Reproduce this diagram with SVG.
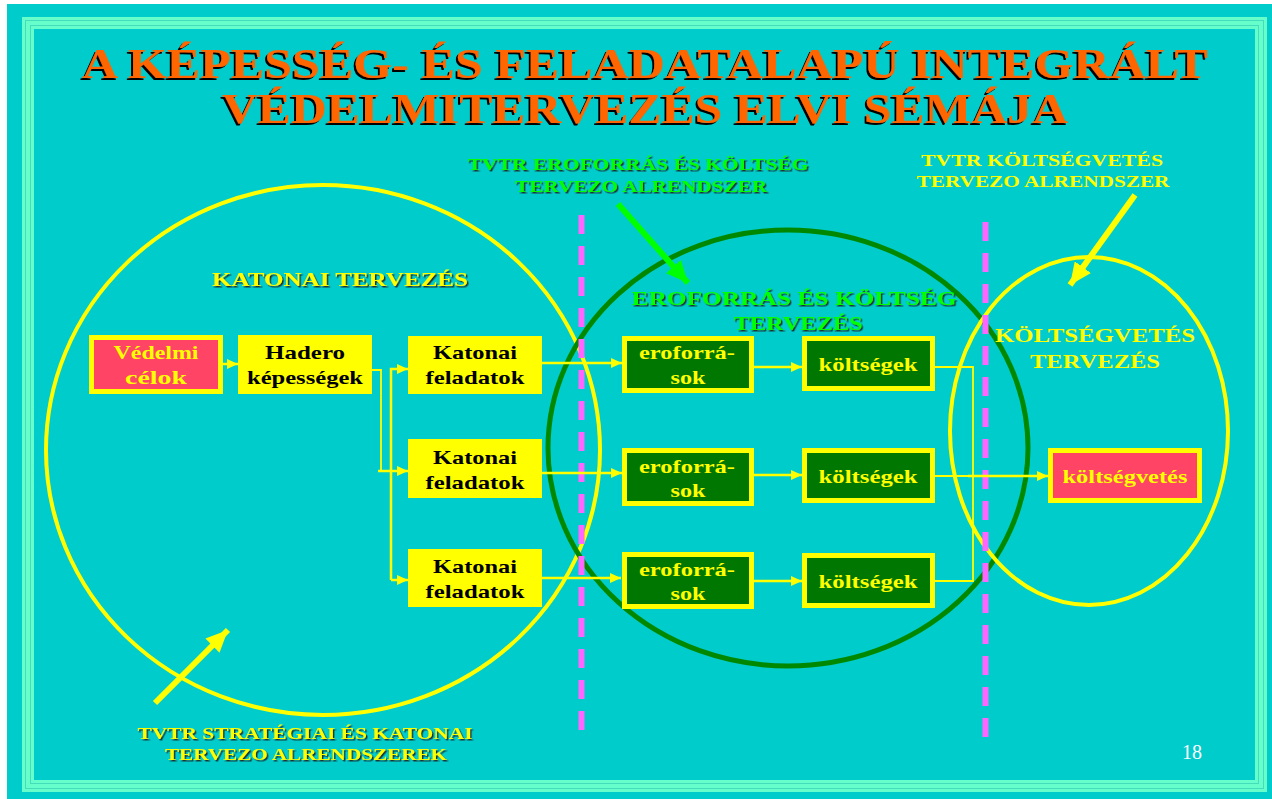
<svg xmlns="http://www.w3.org/2000/svg" width="1272" height="799" viewBox="0 0 1272 799">
<style>
text{font-family:"Liberation Serif","Times New Roman",serif;font-weight:bold;text-anchor:middle}
.title{font-size:42px;fill:#FF6600}
.lblg{font-size:17px;fill:#00FF00}
.lbly{font-size:17px;fill:#FFFF00}
.lblb{font-size:19px;fill:#FFFF00}
.lblbg{font-size:19px;fill:#00FF00}
.bt{font-size:19px}
.blk{fill:#000}
.yel{fill:#FFFF00}
.ybox{fill:#FFFF00}
.gbox{fill:#007700;stroke:#FFFF00;stroke-width:5}
.pbox{fill:#FF4466;stroke:#FFFF00;stroke-width:5}
.conn{fill:none;stroke:#FFFF00;stroke-width:2.5}
.thin{fill:none;stroke:#FFFF00;stroke-width:1.8}
.dash{stroke:#FF66FF;stroke-width:6;stroke-dasharray:19 12}
</style>
<defs>
<filter id="shT" x="-5%" y="-20%" width="110%" height="140%"><feDropShadow dx="-2" dy="2" stdDeviation="0" flood-color="#000" flood-opacity="1"/></filter>
<filter id="shS" x="-5%" y="-20%" width="110%" height="140%"><feDropShadow dx="1.5" dy="1.5" stdDeviation="0" flood-color="#222" flood-opacity="0.9"/></filter>
<marker id="ah" markerUnits="userSpaceOnUse" markerWidth="12" markerHeight="10" refX="11" refY="5" orient="auto"><path d="M0,0 L11,5 L0,10 z" fill="#FFFF00"/></marker>
<marker id="bigY" markerUnits="userSpaceOnUse" markerWidth="24" markerHeight="20" refX="22" refY="10" orient="auto"><path d="M0,0 L22,10 L0,20 z" fill="#FFFF00"/></marker>
<marker id="bigG" markerUnits="userSpaceOnUse" markerWidth="24" markerHeight="20" refX="22" refY="10" orient="auto"><path d="M0,0 L22,10 L0,20 z" fill="#00FF00"/></marker>
</defs>
<rect x="0" y="0" width="1272" height="799" fill="#FFFFFF"/>
<rect x="7" y="4" width="1265" height="795" fill="#00CCCC"/>
<g id="frame">
<rect x="28" y="23" width="1233" height="763" fill="none" stroke="#66FFCC" stroke-width="12"/>
<rect x="25.5" y="20.5" width="1238" height="768" fill="none" stroke="#44DDBB" stroke-width="1"/>
<rect x="30.5" y="25.5" width="1228" height="758" fill="none" stroke="#44DDBB" stroke-width="1"/>
</g>
<g id="title" filter="url(#shT)">
<text class="title" x="645" y="78" textLength="1126" lengthAdjust="spacingAndGlyphs">A KÉPESSÉG- ÉS FELADATALAPÚ INTEGRÁLT</text>
<text class="title" x="645" y="123" textLength="846" lengthAdjust="spacingAndGlyphs">VÉDELMITERVEZÉS ELVI SÉMÁJA</text>
</g>
<g id="ellipses">
<ellipse cx="323" cy="450" rx="277" ry="265" fill="none" stroke="#FFFF00" stroke-width="4"/>
<ellipse cx="788" cy="448" rx="240" ry="218" fill="none" stroke="#008800" stroke-width="5"/>
<ellipse cx="1089" cy="431" rx="139" ry="174" fill="none" stroke="#FFFF00" stroke-width="4"/>
</g>
<g id="dividers">
<line class="dash" x1="581.5" y1="215" x2="581.5" y2="732"/>
<line class="dash" x1="985.5" y1="222" x2="985.5" y2="740"/>
</g>
<g id="labels">
<g filter="url(#shS)">
<text class="lblg" x="638" y="170" textLength="341" lengthAdjust="spacingAndGlyphs">TVTR EROFORRÁS  ÉS KÖLTSÉG</text>
<text class="lblg" x="641" y="192" textLength="252" lengthAdjust="spacingAndGlyphs">TERVEZO ALRENDSZER</text>
<text class="lblb" x="340" y="286" textLength="256" lengthAdjust="spacingAndGlyphs">KATONAI TERVEZÉS</text>
<text class="lblbg" x="794" y="305" textLength="325" lengthAdjust="spacingAndGlyphs">EROFORRÁS  ÉS KÖLTSÉG</text>
<text class="lblbg" x="798" y="330" textLength="129" lengthAdjust="spacingAndGlyphs">TERVEZÉS</text>
<text class="lbly" x="305" y="739" textLength="335" lengthAdjust="spacingAndGlyphs">TVTR STRATÉGIAI ÉS KATONAI</text>
<text class="lbly" x="306" y="760" textLength="282" lengthAdjust="spacingAndGlyphs">TERVEZO ALRENDSZEREK</text>
</g>
<text class="lbly" x="1042" y="166" textLength="242" lengthAdjust="spacingAndGlyphs">TVTR  KÖLTSÉGVETÉS</text>
<text class="lbly" x="1043" y="187" textLength="253" lengthAdjust="spacingAndGlyphs">TERVEZO ALRENDSZER</text>
<text class="lblb" x="1095" y="342" textLength="200" lengthAdjust="spacingAndGlyphs">KÖLTSÉGVETÉS</text>
<text class="lblb" x="1095" y="368" textLength="130" lengthAdjust="spacingAndGlyphs">TERVEZÉS</text>
<text x="1192" y="759" style="font-weight:normal;font-size:20px;fill:#FFFFFF">18</text>
</g>
<g id="pointers">
<line x1="618" y1="204" x2="688" y2="283" stroke="#00FF00" stroke-width="6" marker-end="url(#bigG)"/>
<line x1="1135" y1="195" x2="1070" y2="285" stroke="#FFFF00" stroke-width="6" marker-end="url(#bigY)"/>
<line x1="155" y1="703" x2="228" y2="630" stroke="#FFFF00" stroke-width="6" marker-end="url(#bigY)"/>
</g>
<g id="n-vedelmi">
<rect class="pbox" x="91.5" y="337.5" width="129" height="54"/>
<text class="bt yel" x="156" y="359" textLength="85" lengthAdjust="spacingAndGlyphs">Védelmi</text>
<text class="bt yel" x="156" y="384" textLength="62" lengthAdjust="spacingAndGlyphs">célok</text>
</g>
<g id="n-hadero">
<rect class="ybox" x="238" y="335" width="134" height="59"/>
<text class="bt blk" x="305" y="359" textLength="80" lengthAdjust="spacingAndGlyphs">Hadero</text>
<text class="bt blk" x="305" y="384" textLength="116" lengthAdjust="spacingAndGlyphs">képességek</text>
</g>
<g id="n-katonai1">
<rect class="ybox" x="408" y="336" width="134" height="58"/>
<text class="bt blk" x="475" y="359" textLength="84" lengthAdjust="spacingAndGlyphs">Katonai</text>
<text class="bt blk" x="475" y="384" textLength="99" lengthAdjust="spacingAndGlyphs">feladatok</text>
</g>
<g id="n-katonai2">
<rect class="ybox" x="408" y="439" width="134" height="59"/>
<text class="bt blk" x="475" y="464" textLength="84" lengthAdjust="spacingAndGlyphs">Katonai</text>
<text class="bt blk" x="475" y="489" textLength="99" lengthAdjust="spacingAndGlyphs">feladatok</text>
</g>
<g id="n-katonai3">
<rect class="ybox" x="408" y="549" width="134" height="58"/>
<text class="bt blk" x="475" y="573" textLength="84" lengthAdjust="spacingAndGlyphs">Katonai</text>
<text class="bt blk" x="475" y="598" textLength="99" lengthAdjust="spacingAndGlyphs">feladatok</text>
</g>
<g id="n-eroforras1">
<rect class="gbox" x="624.5" y="338.5" width="127" height="52"/>
<text class="bt yel" x="687" y="359" textLength="96" lengthAdjust="spacingAndGlyphs">eroforrá-</text>
<text class="bt yel" x="688" y="384" textLength="35" lengthAdjust="spacingAndGlyphs">sok</text>
</g>
<g id="n-eroforras2">
<rect class="gbox" x="624.5" y="450.5" width="127" height="53"/>
<text class="bt yel" x="687" y="473" textLength="96" lengthAdjust="spacingAndGlyphs">eroforrá-</text>
<text class="bt yel" x="688" y="497" textLength="35" lengthAdjust="spacingAndGlyphs">sok</text>
</g>
<g id="n-eroforras3">
<rect class="gbox" x="624.5" y="554.5" width="127" height="52"/>
<text class="bt yel" x="687" y="576" textLength="96" lengthAdjust="spacingAndGlyphs">eroforrá-</text>
<text class="bt yel" x="688" y="600" textLength="35" lengthAdjust="spacingAndGlyphs">sok</text>
</g>
<g id="n-koltsegek1">
<rect class="gbox" x="804.5" y="338.5" width="128" height="50"/>
<text class="bt yel" x="868" y="371" textLength="99" lengthAdjust="spacingAndGlyphs">költségek</text>
</g>
<g id="n-koltsegek2">
<rect class="gbox" x="804.5" y="450.5" width="128" height="50"/>
<text class="bt yel" x="868" y="483" textLength="99" lengthAdjust="spacingAndGlyphs">költségek</text>
</g>
<g id="n-koltsegek3">
<rect class="gbox" x="804.5" y="555.5" width="128" height="50"/>
<text class="bt yel" x="868" y="588" textLength="99" lengthAdjust="spacingAndGlyphs">költségek</text>
</g>
<g id="n-koltsegvetes">
<rect class="pbox" x="1050.5" y="450.5" width="149" height="50"/>
<text class="bt yel" x="1125" y="483" textLength="125" lengthAdjust="spacingAndGlyphs">költségvetés</text>
</g>
<g id="connectors">
<line class="conn" x1="221" y1="364" x2="238" y2="364" marker-end="url(#ah)"/>
<path class="thin" d="M372,370 H381 V471"/>
<line class="conn" x1="378" y1="471" x2="408" y2="471" marker-end="url(#ah)"/>
<path class="conn" d="M391,580 V369 H408" marker-end="url(#ah)"/>
<line class="conn" x1="391" y1="580" x2="408" y2="580" marker-end="url(#ah)"/>
<line class="conn" x1="542" y1="363" x2="622" y2="363" marker-end="url(#ah)"/>
<line class="conn" x1="542" y1="473" x2="622" y2="473" marker-end="url(#ah)"/>
<line class="conn" x1="542" y1="578" x2="621" y2="578" marker-end="url(#ah)"/>
<line class="conn" x1="754" y1="367" x2="802" y2="367" marker-end="url(#ah)"/>
<line class="conn" x1="754" y1="475" x2="802" y2="475" marker-end="url(#ah)"/>
<line class="conn" x1="754" y1="581" x2="802" y2="581" marker-end="url(#ah)"/>
<path class="thin" d="M935,367 H973 V581 H935"/>
<line class="thin" x1="935" y1="476" x2="968" y2="476"/>
<line class="conn" x1="968" y1="476" x2="1048" y2="476" marker-end="url(#ah)"/>
</g>
</svg>
